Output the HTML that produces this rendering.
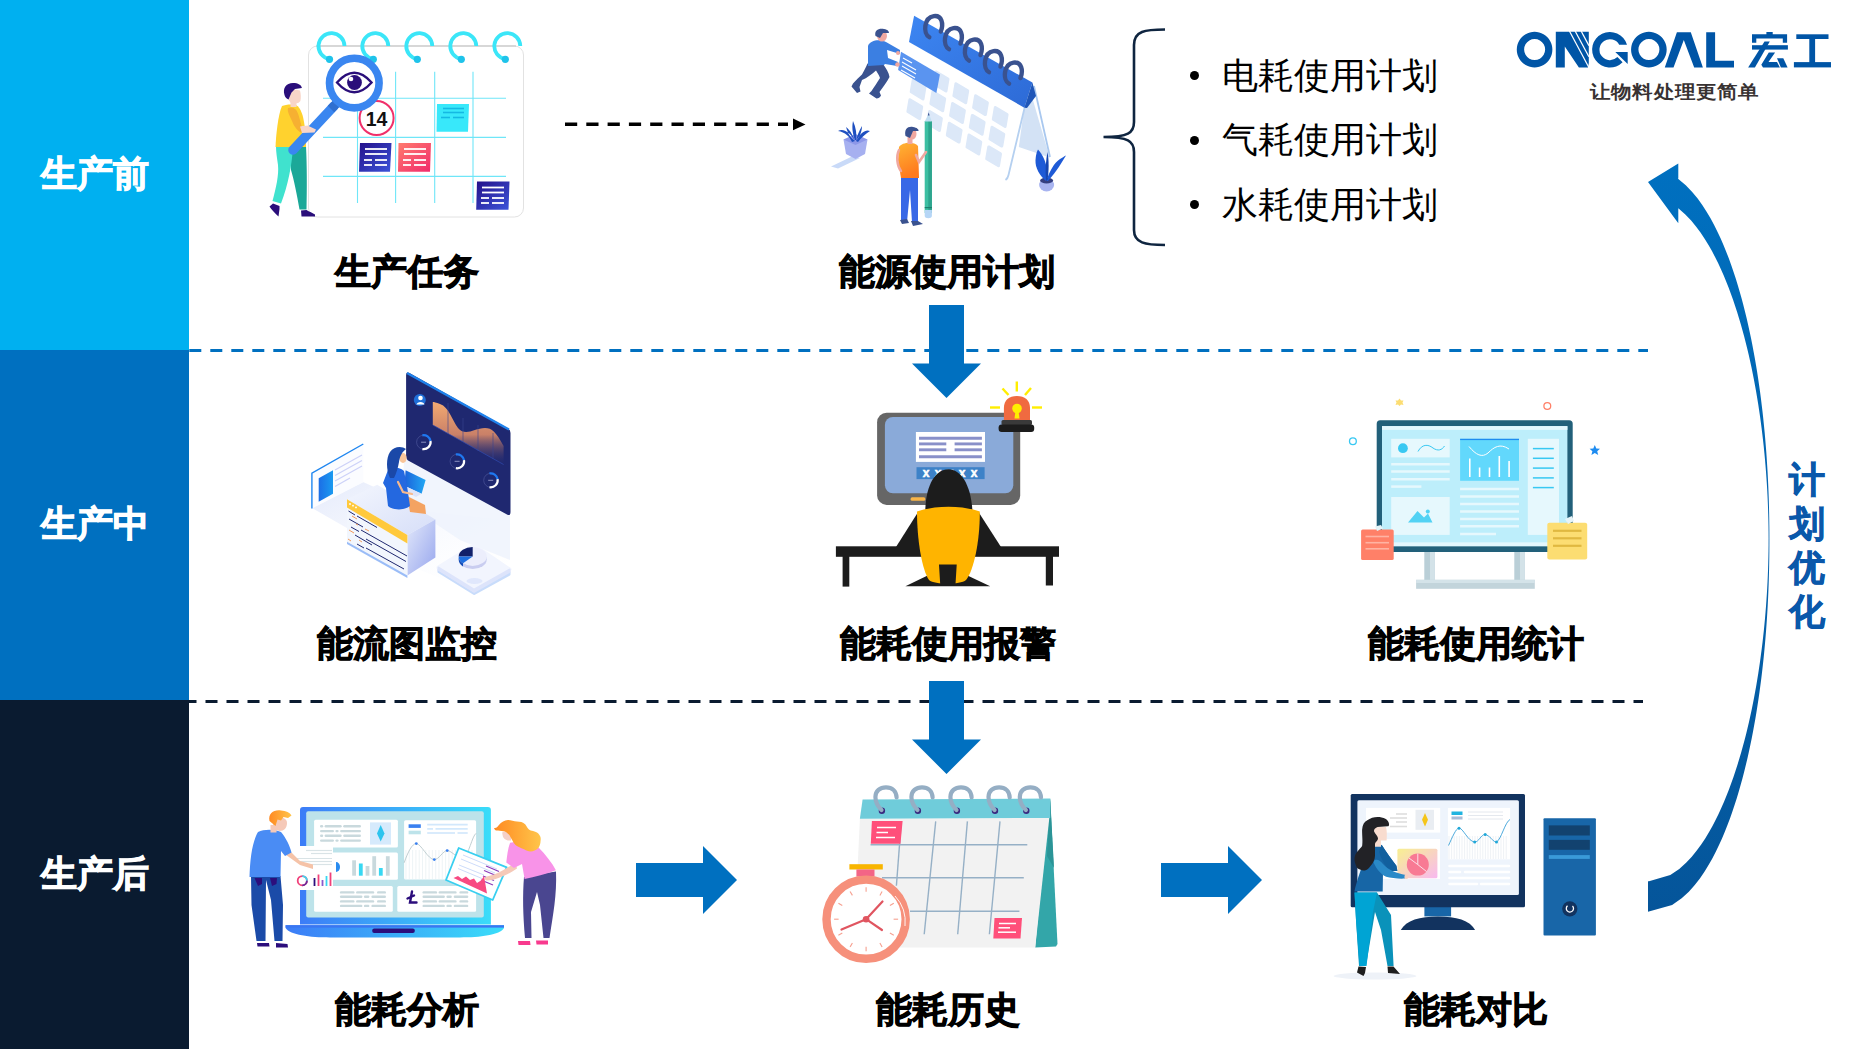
<!DOCTYPE html>
<html><head><meta charset="utf-8">
<style>
html,body{margin:0;padding:0;background:#fff;}
body{width:1869px;height:1050px;position:relative;overflow:hidden;font-family:"Liberation Sans",sans-serif;}
.band{position:absolute;left:0;width:189px;}
.bl{position:absolute;left:0;width:189px;color:#fff;font-weight:bold;font-size:36px;text-align:center;line-height:40px;-webkit-text-stroke:1px #fff;}
.lab{position:absolute;font-weight:bold;font-size:36px;color:#000;text-align:center;line-height:40px;white-space:nowrap;-webkit-text-stroke:1px #000;}
.bul{position:absolute;left:1222px;font-size:36px;color:#000;line-height:40px;white-space:nowrap;}
.dot{position:absolute;left:1190px;width:9px;height:9px;border-radius:50%;background:#000;}
svg{position:absolute;left:0;top:0;}
</style></head><body>
<div class="band" style="top:0;height:350px;background:#00B0F0"></div>
<div class="band" style="top:350px;height:350px;background:#0070C0"></div>
<div class="band" style="top:700px;height:349px;background:#0A1B30"></div>
<div class="bl" style="top:154px">生产前</div>
<div class="bl" style="top:504px">生产中</div>
<div class="bl" style="top:854px">生产后</div>

<svg width="1869" height="1050" viewBox="0 0 1869 1050">
  <defs>
    <linearGradient id="cg" x1="0" y1="0" x2="0" y2="1">
      <stop offset="0" stop-color="#0070C0"/>
      <stop offset="1" stop-color="#05559A"/>
    </linearGradient>
  </defs>
  <!-- dashed lines -->
  <line x1="189.3" y1="350.5" x2="1648" y2="350.5" stroke="#0070C0" stroke-width="3" stroke-dasharray="12 9"/>
  <line x1="184.5" y1="701.5" x2="1643" y2="701.5" stroke="#0A1B30" stroke-width="3" stroke-dasharray="12 9"/>
  <!-- top dashed arrow -->
  <line x1="565" y1="124.2" x2="788" y2="124.2" stroke="#000" stroke-width="3.5" stroke-dasharray="12.2 9.1"/>
  <polygon points="793,118.6 805.5,124.4 793,130.3" fill="#000"/>
  <!-- block arrows -->
  <polygon points="929,305 964,305 964,363.5 981,363.5 946.5,398 912,363.5 929,363.5" fill="#0070C0"/>
  <polygon points="929,681 964,681 964,739.5 981,739.5 946.5,774 912,739.5 929,739.5" fill="#0070C0"/>
  <polygon points="636,863 703,863 703,846 737,880 703,914 703,897 636,897" fill="#0070C0"/>
  <polygon points="1161,863 1228,863 1228,846 1262,880 1228,914 1228,897 1161,897" fill="#0070C0"/>
  <!-- curved arrow -->
  <path d="M1648,911.7 L1672.12,905.04 L1681.67,898.37 L1688.84,891.71 L1694.77,885.04 L1699.90,878.38 L1704.45,871.71 L1708.56,865.05 L1712.32,858.38 L1715.79,851.72 L1719.01,845.05 L1722.01,838.39 L1724.83,831.73 L1727.48,825.06 L1729.97,818.40 L1732.33,811.73 L1734.57,805.07 L1736.69,798.40 L1738.70,791.74 L1740.62,785.07 L1742.44,778.41 L1744.18,771.74 L1745.83,765.08 L1747.40,758.42 L1748.90,751.75 L1750.33,745.09 L1751.69,738.42 L1752.99,731.76 L1754.22,725.09 L1755.40,718.43 L1756.52,711.76 L1757.58,705.10 L1758.58,698.43 L1759.54,691.77 L1760.44,685.11 L1761.30,678.44 L1762.10,671.78 L1762.86,665.11 L1763.57,658.45 L1764.24,651.78 L1764.86,645.12 L1765.44,638.45 L1765.98,631.79 L1766.48,625.12 L1766.93,618.46 L1767.35,611.80 L1767.72,605.13 L1768.06,598.47 L1768.35,591.80 L1768.61,585.14 L1768.83,578.47 L1769.02,571.81 L1769.16,565.14 L1769.27,558.48 L1769.35,551.81 L1769.39,545.15 L1769.40,538.49 L1769.38,531.82 L1769.32,525.16 L1769.23,518.49 L1769.10,511.83 L1768.94,505.16 L1768.74,498.50 L1768.50,491.83 L1768.22,485.17 L1767.91,478.50 L1767.56,471.84 L1767.16,465.18 L1766.73,458.51 L1766.26,451.85 L1765.74,445.18 L1765.19,438.52 L1764.59,431.85 L1763.94,425.19 L1763.26,418.52 L1762.52,411.86 L1761.74,405.19 L1760.92,398.53 L1760.04,391.87 L1759.11,385.20 L1758.13,378.54 L1757.10,371.87 L1756.02,365.21 L1754.87,358.54 L1753.67,351.88 L1752.41,345.21 L1751.08,338.55 L1749.69,331.88 L1748.23,325.22 L1746.70,318.56 L1745.09,311.89 L1743.40,305.23 L1741.62,298.56 L1739.76,291.90 L1737.80,285.23 L1735.74,278.57 L1733.57,271.90 L1731.28,265.24 L1728.86,258.57 L1726.29,251.91 L1723.57,245.25 L1720.67,238.58 L1717.57,231.92 L1714.25,225.25 L1710.65,218.59 L1706.74,211.92 L1702.44,205.26 L1697.65,198.59 L1692.19,191.93 L1685.77,185.26 L1677.75,178.60 L1678.3,178.6 L1678.3,163.6 L1648,182.1 L1678.3,223.3 L1678.3,208.3 L1678.32,208.30 L1685.33,214.42 L1691.14,220.53 L1696.18,226.65 L1700.68,232.77 L1704.76,238.89 L1708.50,245.00 L1711.96,251.12 L1715.18,257.24 L1718.20,263.36 L1721.05,269.47 L1723.73,275.59 L1726.26,281.71 L1728.67,287.82 L1730.96,293.94 L1733.13,300.06 L1735.20,306.18 L1737.18,312.29 L1739.07,318.41 L1740.87,324.53 L1742.60,330.65 L1744.24,336.76 L1745.82,342.88 L1747.32,349.00 L1748.76,355.11 L1750.14,361.23 L1751.46,367.35 L1752.71,373.47 L1753.91,379.58 L1755.06,385.70 L1756.15,391.82 L1757.19,397.94 L1758.18,404.05 L1759.11,410.17 L1760.00,416.29 L1760.85,422.40 L1761.64,428.52 L1762.39,434.64 L1763.10,440.76 L1763.76,446.87 L1764.38,452.99 L1764.95,459.11 L1765.48,465.23 L1765.97,471.34 L1766.42,477.46 L1766.83,483.58 L1767.19,489.69 L1767.51,495.81 L1767.79,501.93 L1768.03,508.05 L1768.23,514.16 L1768.39,520.28 L1768.50,526.40 L1768.57,532.52 L1768.60,538.63 L1768.58,544.75 L1768.51,550.87 L1768.40,556.98 L1768.25,563.10 L1768.06,569.22 L1767.82,575.34 L1767.55,581.45 L1767.23,587.57 L1766.87,593.69 L1766.47,599.81 L1766.03,605.92 L1765.54,612.04 L1765.02,618.16 L1764.45,624.27 L1763.84,630.39 L1763.18,636.51 L1762.48,642.63 L1761.74,648.74 L1760.94,654.86 L1760.11,660.98 L1759.22,667.10 L1758.29,673.21 L1757.31,679.33 L1756.28,685.45 L1755.19,691.56 L1754.05,697.68 L1752.86,703.80 L1751.61,709.92 L1750.30,716.03 L1748.93,722.15 L1747.50,728.27 L1746.00,734.39 L1744.44,740.50 L1742.80,746.62 L1741.08,752.74 L1739.29,758.85 L1737.41,764.97 L1735.45,771.09 L1733.39,777.21 L1731.22,783.32 L1728.95,789.44 L1726.56,795.56 L1724.04,801.68 L1721.38,807.79 L1718.55,813.91 L1715.56,820.03 L1712.36,826.14 L1708.93,832.26 L1705.22,838.38 L1701.19,844.50 L1696.75,850.61 L1691.78,856.73 L1686.08,862.85 L1679.25,868.97 L1670.30,875.08 L1649.00,881.20 L1648,881.2 Z" fill="url(#cg)"/>
  <!-- brace -->
  <path d="M1165,29.5 C1145,29.5 1134,31 1134,45 L1134,122 C1134,133 1128,137 1103.5,137 C1128,137 1134,141 1134,152 L1134,230 C1134,243 1145,245 1165,245" fill="none" stroke="#0F2540" stroke-width="2.6"/>
</svg>


<!-- ILL1 生产任务 -->
<svg width="1869" height="1050" viewBox="0 0 1869 1050">
  <defs>
    <linearGradient id="n_ind" x1="0" y1="0" x2="1" y2="1"><stop offset="0" stop-color="#23108A"/><stop offset="1" stop-color="#3D55DA"/></linearGradient>
    <linearGradient id="n_pink" x1="0" y1="0" x2="1" y2="1"><stop offset="0" stop-color="#FF7B6E"/><stop offset="1" stop-color="#F12A6C"/></linearGradient>
  </defs>
  <rect x="308.5" y="46" width="215" height="171" rx="9" fill="#fff" stroke="#E2E2E2" stroke-width="1"/><line x1="316" y1="46" x2="516" y2="46" stroke="#BDBDBD" stroke-width="1.2"/>
  <g stroke="#6FE6F8" stroke-width="1.1" fill="none">
    <line x1="323" y1="98.3" x2="506" y2="98.3"/><line x1="323" y1="137.4" x2="506" y2="137.4"/><line x1="323" y1="176.4" x2="506" y2="176.4"/>
    <line x1="357.5" y1="71.7" x2="357.5" y2="203"/><line x1="395.6" y1="71.7" x2="395.6" y2="203"/><line x1="434.7" y1="71.7" x2="434.7" y2="203"/><line x1="473" y1="71.7" x2="473" y2="203"/>
  </g>
  <g fill="none" stroke="#3BE6F8" stroke-width="3.8">
    <path d="M329.5,59 A13,13 0 1 1 344.5,46"/>
    <path d="M373.3,59 A13,13 0 1 1 388.3,46"/>
    <path d="M417.3,59 A13,13 0 1 1 432.3,46"/>
    <path d="M461.3,59 A13,13 0 1 1 476.3,46"/>
    <path d="M505.3,59 A13,13 0 1 1 520.3,46"/>
  </g>
  <g fill="#1FC3EA">
    <circle cx="329.5" cy="59.3" r="3.6"/><circle cx="373.3" cy="59.3" r="3.6"/><circle cx="417.3" cy="59.3" r="3.6"/><circle cx="461.3" cy="59.3" r="3.6"/><circle cx="505.3" cy="59.3" r="3.6"/>
  </g>
  <!-- notes -->
  <polygon points="437,104 469,104 468,131.7 436.5,131.7" fill="#38E8FA"/>
  <g stroke="#14B9E3" stroke-width="1.6"><line x1="443" y1="108.5" x2="464" y2="108.5"/><line x1="443" y1="112.5" x2="464" y2="112.5"/><line x1="441" y1="117.5" x2="450" y2="117.5"/><line x1="453" y1="117.5" x2="464" y2="117.5"/></g>
  <polygon points="360,143 391.5,143 390,171.7 359,171.7" fill="url(#n_ind)"/>
  <polygon points="398.5,143 431,143 430,171.7 398,171.7" fill="url(#n_pink)"/>
  <polygon points="477,181.6 509.5,181.6 508.5,209.8 476.2,209.8" fill="url(#n_ind)"/>
  <g stroke="#fff" stroke-width="1.8">
    <line x1="365" y1="149" x2="387" y2="149"/><line x1="365" y1="154" x2="387" y2="154"/><line x1="364" y1="160" x2="372" y2="160"/><line x1="375" y1="160" x2="387" y2="160"/><line x1="364" y1="165" x2="372" y2="165"/><line x1="375" y1="165" x2="387" y2="165"/>
    <line x1="404" y1="149" x2="426" y2="149"/><line x1="404" y1="154" x2="426" y2="154"/><line x1="403" y1="160" x2="411" y2="160"/><line x1="414" y1="160" x2="426" y2="160"/><line x1="403" y1="165" x2="411" y2="165"/><line x1="414" y1="165" x2="426" y2="165"/>
    <line x1="482" y1="187.5" x2="504" y2="187.5"/><line x1="482" y1="192.5" x2="504" y2="192.5"/><line x1="481" y1="198" x2="489" y2="198"/><line x1="492" y1="198" x2="504" y2="198"/><line x1="481" y1="203" x2="489" y2="203"/><line x1="492" y1="203" x2="504" y2="203"/>
  </g>
  <!-- 14 circle -->
  <circle cx="376.6" cy="118" r="17" fill="#fff" stroke="#F0306A" stroke-width="2"/>
  <text x="376.6" y="125.5" font-family="Liberation Sans" font-weight="bold" font-size="19.5" text-anchor="middle" fill="#111">14</text>
  <!-- person -->
  <path d="M289,148 L306,146.5 C307,165 307,190 306.5,209.5 L299.5,209.5 C297,195 294,180 291,170 Z" fill="#1BA898"/>
  <path d="M276,146.5 L293,146.5 C292,165 288,185 281,203.5 L272.5,201 C276,188 279,175 278,165 C277,158 276,152 276,146.5 Z" fill="#40E2CE"/>
  <path d="M269.5,206.5 L273,203.5 L279.5,206 L279.5,209 L278.5,216.5 C275,213 271,209.5 269.5,206.5 Z" fill="#2A0E7A"/>
  <path d="M301,210.5 L306.5,210 C309,211.5 313,213 315,214.5 L315,216.5 L301.5,216.5 Z" fill="#2A0E7A"/>
  <path d="M282,106 C285,104.5 292,104 296,105 C301,108 303,115 304.5,125 C305.5,133 306,140 306,147 L275.5,147 C276,135 278,115 282,106 Z" fill="#FFD22E"/>
  <path d="M288,108 C293,106 297,109 298.5,115 C300,120 301,124 302,127.5 L308,126.5 L309,131 L300.5,132.5 C296,129 294,126 292,121 C290,116 287,112 288,108 Z" fill="#F6B032"/>
  <path d="M301.5,126 L308,125.8 L315.5,129 L314.5,131.8 L303,132.3 Z" fill="#F8D5C8"/>
  <rect x="290.5" y="99" width="6" height="8" fill="#F8D5C8"/>
  <path d="M287,92 C288,89 295,89 300,90.5 C301,94 301,98 300.4,101 C299,103.5 295,104 291,103 C288,100 286.5,96 287,92 Z" fill="#F8D5C8"/>
  <path d="M284.5,95 C282.5,88 286,83 293,83 C298,83 301.5,85 301.9,88 L295,89 L291.5,92.5 L288.5,99.5 C286.5,98.5 285,97 284.5,95 Z" fill="#2A0E7A"/>
  <!-- magnifier -->
  <line x1="334" y1="106" x2="293" y2="150" stroke="#3A86F0" stroke-width="9.5" stroke-linecap="round"/>
  <line x1="338" y1="102" x2="331" y2="109" stroke="#2F6FD0" stroke-width="9"/>
  <circle cx="354.3" cy="83.1" r="24.8" fill="#fff" stroke="#3A86F0" stroke-width="7.6"/>
  <path d="M337,82.5 Q354.3,63 371.6,82.5 Q354.3,102 337,82.5 Z" fill="#fff" stroke="#2A0E7A" stroke-width="2.3"/>
  <circle cx="354.5" cy="82.5" r="7.4" fill="#2A0E7A"/>
  <circle cx="351" cy="79" r="2.3" fill="#fff"/>
  <path d="M300,126.5 L308,125.8 L316,129.5 L314.5,132.5 L302,133 Z" fill="#F8D5C8"/>
</svg>

<!-- ILL2 能源使用计划 -->
<svg width="1869" height="1050" viewBox="0 0 1869 1050">
  <defs>
    <linearGradient id="hdr2" x1="0" y1="0" x2="1" y2="1"><stop offset="0" stop-color="#3D86F2"/><stop offset="1" stop-color="#2D6AD6"/></linearGradient>
    <linearGradient id="stand2" x1="0" y1="0" x2="0" y2="1"><stop offset="0" stop-color="#CFDFF4"/><stop offset="0.6" stop-color="#E2ECF8"/><stop offset="1" stop-color="#FFFFFF"/></linearGradient>
    <linearGradient id="shirt2" x1="0" y1="0" x2="0.3" y2="1"><stop offset="0" stop-color="#FFB534"/><stop offset="1" stop-color="#FF7A1E"/></linearGradient>
  </defs>
  <!-- stand -->
  <polygon points="1030,90 1049.7,157.5 1018.8,147 1024.5,106" fill="#D3E2F5"/>
  <path d="M1025.5,104 L1008.5,175 C1008,177.5 1007,179 1005.5,180" fill="none" stroke="#B5D0F0" stroke-width="1.8"/>
  <line x1="1034" y1="86" x2="1050" y2="157" stroke="#A9C8EF" stroke-width="1.8"/>
  <g fill="#DCE8F8" stroke="#DCE8F8" stroke-width="3" stroke-linejoin="round"><polygon points="936.2,72.0 948.0,79.1 946.0,91.0 934.2,83.9"/><polygon points="955.9,83.8 967.7,90.9 965.7,102.8 953.9,95.7"/><polygon points="975.6,95.7 987.4,102.7 985.4,114.6 973.6,107.5"/><polygon points="995.3,107.5 1007.1,114.5 1005.1,126.4 993.3,119.3"/><polygon points="913.2,80.0 925.0,87.0 923.0,98.9 911.2,91.8"/><polygon points="932.9,91.8 944.7,98.8 942.7,110.7 930.9,103.6"/><polygon points="952.6,103.5 964.4,110.6 962.4,122.5 950.6,115.4"/><polygon points="972.3,115.4 984.1,122.4 982.1,134.2 970.3,127.2"/><polygon points="992.0,127.2 1003.8,134.2 1001.8,146.1 990.0,139.0"/><polygon points="909.9,99.7 921.7,106.7 919.7,118.6 907.9,111.5"/><polygon points="929.6,111.5 941.4,118.5 939.4,130.4 927.6,123.3"/><polygon points="949.3,123.2 961.1,130.3 959.1,142.1 947.3,135.1"/><polygon points="969.0,135.1 980.8,142.1 978.8,153.9 967.0,146.9"/><polygon points="988.7,146.9 1000.5,153.9 998.5,165.8 986.7,158.7"/></g>
  <!-- header -->
  <polygon points="914.1,15.7 1032.4,82.6 1024.4,107.7 909,42" fill="url(#hdr2)"/>
  <polygon points="1032.4,82.6 1036,96 1027,108 1024.4,107.7" fill="#1F56B8"/>
  <g fill="none" stroke="#3A528F" stroke-width="4.4" stroke-linecap="round" transform="translate(0.8,1.6)">
    <path d="M928.5,35.5 C922,32 923,16 933,14.5 C941,13.5 943,22 940,30"/>
    <path d="M948.2,47.5 C941.7,44 942.7,28 952.7,26.5 C960.7,25.5 962.7,34 959.7,42"/>
    <path d="M968.2,59 C961.7,55.5 962.7,39.5 972.7,38 C980.7,37 982.7,45.5 979.7,53.5"/>
    <path d="M988.2,70.5 C981.7,67 982.7,51 992.7,49.5 C1000.7,48.5 1002.7,57 999.7,65"/>
    <path d="M1008.2,82 C1001.7,78.5 1002.7,62.5 1012.7,61 C1020.7,60 1022.7,68.5 1019.7,76.5"/>
  </g>
  <!-- note held -->
  <polygon points="901,51.7 939.9,74.6 936.4,92.9 898.1,70" fill="#5A94F0"/>
  <g stroke="#fff" stroke-width="1.1"><line x1="903" y1="58" x2="912" y2="63"/><line x1="902" y1="62" x2="916" y2="70"/><line x1="902" y1="66" x2="916" y2="74"/><line x1="901" y1="70" x2="915" y2="78"/></g>
  <!-- man 1 -->
  <path d="M867.5,63.5 L883,64 C886,68 889,73 889.5,77 C887,82 883,87 879.5,92 L881,95.5 C880,97.5 878.5,98.5 876.5,98.5 L869,93.5 L871.5,91 C874,87 877,83 880,78 C879,75 877,72 876,70.5 C872,74 867,78 862,80 L859.5,87 L860.5,91.5 L857,93 L851.5,86.5 L853,83.5 C856,80 859,77 862,74.5 C864,71 866,67 867.5,63.5 Z" fill="#3A528F"/>
  <path d="M868,46 C870,40 880,39 886,42 L900,50 L900,54 L887,50 L888,58 L898,62 L897,66 L885,64 L884,65 L868,66 Z" fill="#3B7FE2"/>
  <circle cx="898" cy="53" r="2" fill="#F0A8A0"/><circle cx="897.5" cy="64.5" r="2.3" fill="#F0A8A0"/>
  <ellipse cx="882" cy="36" rx="5" ry="5.5" fill="#F0A8A0"/>
  <path d="M875.5,36 C874,30 879,28 884,29 C888,29.5 889,31.5 889,33 L883,33 L880,38 Z" fill="#3A528F"/>
  <!-- man 2 with pencil -->
  <rect x="924.7" y="121" width="7.2" height="92" fill="#3DBFA2"/>
  <rect x="928.3" y="121" width="3.6" height="92" fill="#2EA58E"/>
  <polygon points="924.7,121.5 931.9,121.5 928.8,113.5" fill="#C2DEF2"/><polygon points="927.8,115.5 929.6,115.5 928.7,112.3" fill="#3A528F"/>
  <rect x="924.7" y="207" width="7.2" height="1.2" fill="#1E7F6E"/>
  <path d="M924.7,210 L931.9,210 L931.9,216 C931.9,219 924.7,219 924.7,216 Z" fill="#B6D6F6"/>
  <path d="M901,176 L918,176 L918,222 L912,222 L910,190 L907,222 L901,221 Z" fill="#3868E6"/>
  <path d="M900,220 L907,219 L909,223 L902,224 Z" fill="#3A528F"/>
  <path d="M911,221 L918,221 L923,224 L913,226 Z" fill="#3A528F"/>
  <path d="M899,147 C902,142 914,141 918,146 L919,178 L901,178 L898,160 Z" fill="url(#shirt2)"/>
  <path d="M899,150 C896,156 897,166 901,171" fill="none" stroke="#F0A8A0" stroke-width="2.5" stroke-linecap="round"/>
  <path d="M916,155 L919,162 L926,152" fill="none" stroke="#F0A8A0" stroke-width="2.6" stroke-linecap="round"/>
  <rect x="907.5" y="137" width="5" height="7" fill="#F0A8A0"/>
  <ellipse cx="912" cy="134" rx="4.5" ry="5.5" fill="#F0A8A0"/>
  <path d="M905.5,136 C904,129 908,126 913,127 C917,127.5 919,129.5 918.5,131 L913,131 L910,138 Z" fill="#3A528F"/>
  <!-- plant left -->
  <polygon points="831,166.5 853,156 860,158 838,168.5" fill="#C9DAF8"/>
  <polygon points="843.5,139.5 867.5,139.5 865,154 855.5,159 846,154" fill="#A6B0F0"/>
  <polygon points="843.5,139.5 855.5,134 867.5,139.5 855.5,145" fill="#8C97E8"/>
  <path d="M855,140 C852,132 852,126 853,121 C856,128 857,134 856,140 Z M855,141 C850,132 843,128 838,131 C845,132 850,137 852,142 Z M856,141 C861,132 866,129 870,131 C865,134 861,138 858,142 Z M855,141 C849,137 847,130 846,127 C851,131 853,136 855,141 Z M856,141 C861,136 862,129 862,126 C859,131 857,136 856,141 Z" fill="#1E4FC0"/>
  <!-- plant right -->
  <ellipse cx="1046.6" cy="185" rx="7.5" ry="6.5" fill="#A8B4F0"/>
  <ellipse cx="1046.6" cy="180.5" rx="6.5" ry="3" fill="#343F80"/>
  <path d="M1046,181 C1040,176 1035,168 1035.5,160 C1036,154 1037,151 1038,149.5 C1042,154 1046,161 1047,170 Z" fill="#1E5AD6"/>
  <path d="M1046.5,181 C1049,172 1054,163 1060,159 C1062.5,157.5 1064.5,156 1066,155.5 C1062,162 1057,171 1048,181 Z" fill="#1E5AD6"/>
  <path d="M1046,180 C1045,170 1046,160 1047.5,152 C1049,160 1049,171 1047.5,180 Z" fill="#1646B0"/>
</svg>

<!-- ILL3 能流图监控 -->
<svg width="1869" height="1050" viewBox="0 0 1869 1050">
  <defs>
    <linearGradient id="floor3" x1="0" y1="0" x2="1" y2="1"><stop offset="0" stop-color="#E4EAFB"/><stop offset="1" stop-color="#FFFFFF" stop-opacity="0"/></linearGradient>
    <linearGradient id="rface3" x1="0" y1="0" x2="1" y2="1"><stop offset="0" stop-color="#E2E8FA"/><stop offset="1" stop-color="#97A6EE"/></linearGradient>
    <linearGradient id="tface3" x1="0" y1="0" x2="1" y2="1"><stop offset="0" stop-color="#F3F6FE"/><stop offset="1" stop-color="#D6DEF8"/></linearGradient>
    <linearGradient id="area3" x1="0" y1="0" x2="0" y2="1"><stop offset="0" stop-color="#F8AE72"/><stop offset="0.55" stop-color="#C98068"/><stop offset="1" stop-color="#1F2870" stop-opacity="0.1"/></linearGradient>
    <linearGradient id="lap3" x1="0" y1="0" x2="1" y2="0"><stop offset="0" stop-color="#1C62DA"/><stop offset="1" stop-color="#22A8F4"/></linearGradient>
    <linearGradient id="blue3" x1="0" y1="0" x2="1" y2="0"><stop offset="0" stop-color="#1C6EE6"/><stop offset="1" stop-color="#1A9AF0"/></linearGradient>
  </defs>
  <!-- floor shadows -->
  <polygon points="312,508 363,482 430,512 510,520 510,560 470,590 420,570" fill="url(#floor3)"/>
  <polygon points="405,455 510,515 510,560 460,540 400,500" fill="#EEF2FD" opacity="0.8"/>
  <!-- left panel -->
  <polygon points="311.9,473.1 363.3,444 363.3,482.3 311.9,508.6" fill="#FBFCFF"/>
  <polyline points="311.9,508.6 311.9,473.1 363.3,444" fill="none" stroke="#1E86F0" stroke-width="1.4"/>
  <polygon points="318.7,478.3 333,470.3 333,493.7 318.7,501.7" fill="url(#blue3)"/>
  <g stroke="#CDD2F8" stroke-width="1.3"><line x1="335" y1="470" x2="362" y2="455"/><line x1="335" y1="475.5" x2="362" y2="460.5"/><line x1="335" y1="481" x2="362" y2="466"/><line x1="335" y1="486.5" x2="350" y2="478"/></g>
  <!-- big panel -->
  <path d="M406.1,375 Q406.1,371.5 409.5,373 L508,428.6 Q510.5,430 510.5,433 L510.5,512 Q510.5,516.5 507,514.5 L409,461 Q406.1,459.5 406.1,456 Z" fill="#1F2870"/>
  <path d="M407,373 L509,429.5" stroke="#1F82EC" stroke-width="2.2" fill="none"/>
  <path d="M432.8,398.5 L432.8,425 L503.6,464.5 L503.6,446 C496,432 492,428 485,428 C474,428 466,437 458,428 C452,420 449,407 440,404 C436,402.5 434,402 432.8,402 Z" fill="url(#area3)"/>
  <g stroke="#3A4590" stroke-width="0.6"><line x1="448" y1="403" x2="448" y2="434"/><line x1="463" y1="418" x2="463" y2="442"/><line x1="478" y1="425" x2="478" y2="451"/><line x1="493" y1="433" x2="493" y2="459"/></g>
  <line x1="432.8" y1="425" x2="503.6" y2="464.5" stroke="#2F4AB0" stroke-width="0.7"/>
  <circle cx="419.8" cy="400" r="6" fill="#1F6FD8"/>
  <circle cx="420.5" cy="398" r="2.3" fill="#fff"/><path d="M416.5,404.5 C417,401 424,401 424.5,404.5 Z" fill="#fff"/>
  <circle cx="423.6" cy="442.2" r="7" fill="none" stroke="#4A5398" stroke-width="0.7"/><path d="M422.38,435.31 A7.0,7.0 0 0 1 430.49,440.98" fill="none" stroke="#1F78F0" stroke-width="2.2"/><path d="M430.49,440.98 A7.0,7.0 0 0 1 422.38,449.09" fill="none" stroke="#FFFFFF" stroke-width="2.2"/><rect x="421.1" y="441.7" width="5" height="1" fill="#8A90C0"/><circle cx="457.1" cy="461.3" r="7" fill="none" stroke="#4A5398" stroke-width="0.7"/><path d="M455.88,454.41 A7.0,7.0 0 0 1 463.99,460.08" fill="none" stroke="#1F78F0" stroke-width="2.2"/><path d="M463.99,460.08 A7.0,7.0 0 0 1 455.88,468.19" fill="none" stroke="#FFFFFF" stroke-width="2.2"/><rect x="454.6" y="460.8" width="5" height="1" fill="#8A90C0"/><circle cx="490.7" cy="480.3" r="7" fill="none" stroke="#4A5398" stroke-width="0.7"/><path d="M489.48,473.41 A7.0,7.0 0 0 1 497.59,479.08" fill="none" stroke="#1F78F0" stroke-width="2.2"/><path d="M497.59,479.08 A7.0,7.0 0 0 1 489.48,487.19" fill="none" stroke="#FFFFFF" stroke-width="2.2"/><rect x="488.2" y="479.8" width="5" height="1" fill="#8A90C0"/>
  <!-- desk -->
  <polygon points="347,499.3 377.2,484.7 435.4,519.4 407.4,535.1" fill="url(#tface3)"/>
  <polygon points="407.4,535.1 435.4,519.4 435.4,557.5 407.4,575.4" fill="url(#rface3)"/>
  <polygon points="347,499.3 407.4,535.1 407.4,575.4 347,541.8" fill="#F2F6FD"/>
  <polygon points="347,541.8 407.4,575.4 407.4,578 347,544" fill="#6FA0F4" opacity="0.7"/>
  <polygon points="347,499.3 407.4,535.1 407.4,543.5 347,507.5" fill="#FFC93C"/>
  <g fill="#fff"><circle cx="350" cy="504" r="0.9"/><circle cx="353" cy="505.7" r="0.9"/><circle cx="356" cy="507.4" r="0.9"/></g>
  <g stroke="#1F2870" stroke-width="1"><line x1="348.5" y1="511" x2="355" y2="515"/><line x1="357" y1="516" x2="377" y2="527.5"/><line x1="349" y1="519" x2="363" y2="527"/><line x1="351" y1="527" x2="359" y2="531.5"/><line x1="361" y1="530" x2="407" y2="556"/><line x1="355" y1="535" x2="372" y2="545"/><line x1="366" y1="539" x2="406" y2="561.5"/><line x1="357" y1="544" x2="364" y2="548"/><line x1="366" y1="548" x2="404" y2="569"/></g>
  <g stroke="#F39A5A" stroke-width="1"><line x1="352" y1="516" x2="357" y2="519"/><line x1="356" y1="524" x2="358" y2="525"/><line x1="365" y1="529" x2="369" y2="531"/><line x1="349" y1="530" x2="354" y2="533"/><line x1="348" y1="539" x2="351" y2="541"/><line x1="359" y1="540" x2="362" y2="542"/></g>
  <!-- woman -->
  <path d="M407,496 L425,505 L426,514 L410,512 Z" fill="#F4A362"/>
  <polygon points="405.6,470.3 425.6,480 421.6,493.7 404.4,485.7" fill="url(#lap3)"/>
  <polygon points="404.4,485.7 421.6,493.7 416,497 400,489" fill="#DDE4FA"/>
  <path d="M388,470 C392,466 400,467 404,471 L407,486 L410,506 C404,511 392,510 388,506 L386,488 L383,483 Z" fill="#2468E0"/>
  <path d="M398,482 L403,492 L412,494" fill="none" stroke="#F6B98E" stroke-width="2.2" stroke-linecap="round"/>
  <ellipse cx="403" cy="458" rx="3.6" ry="5" fill="#F8C59A"/>
  <path d="M390,478 C386,470 386,458 390,452 C394,446 402,446 406,449 C402,452 400,456 399,462 C398,468 396,474 394,478 Z" fill="#1A48A8"/>
  <!-- pie platform -->
  <polygon points="438.5,569.5 474,591.5 509.5,572 509.5,574.5 474,594 438.5,572" fill="#6FA2F6" opacity="0.55" stroke="#9CC0F8" stroke-width="2" stroke-linejoin="round"/>
  <polygon points="438.5,567.5 474,545.5 509.5,569.5 474,589.5" fill="#F2F5FE" stroke="#F2F5FE" stroke-width="4" stroke-linejoin="round"/>
  <polygon points="438.5,567.5 474,589.5 509.5,569.5 509.5,572 474,592 438.5,570" fill="#DDE4FB" stroke="#DDE4FB" stroke-width="2" stroke-linejoin="round"/>
  <ellipse cx="474.5" cy="581" rx="8" ry="3" fill="#C9D8FA" opacity="0.45"/>
  <ellipse cx="472.7" cy="559.5" rx="14" ry="9.5" fill="#C9CDF0"/>
  <ellipse cx="472.7" cy="556.4" rx="14" ry="9.5" fill="#ECEEFC"/>
  <path d="M472.7,556.4 L472.7,546.9 A14,9.5 0 0 0 458.7,556.4 Z" fill="#12206A"/>
  <path d="M472.7,556.4 L458.7,556.4 A14,9.5 0 0 0 463,563.3 Z" fill="#1F6FE0"/>
  <path d="M458.7,556.4 L458.7,559.5 A14,9.5 0 0 0 463,566.4 L463,563.3 A14,9.5 0 0 1 458.7,556.4 Z" fill="#164FB8"/>
</svg>

<!-- ILL4 能耗使用报警 -->
<svg width="1869" height="1050" viewBox="0 0 1869 1050">
  <rect x="877.1" y="412.7" width="143.1" height="92.2" rx="9.5" fill="#666666"/>
  <rect x="884.9" y="416.9" width="128.4" height="76.4" rx="8" fill="#8AAAD9"/>
  <rect x="910.6" y="497.3" width="14.7" height="3.4" rx="1.5" fill="#F9B548"/>
  <rect x="915.9" y="432" width="69.1" height="29.9" fill="#fff"/>
  <g stroke="#8990C9" stroke-width="2.9">
    <line x1="919" y1="438.3" x2="981.9" y2="438.3"/>
    <line x1="919" y1="443.9" x2="946.3" y2="443.9"/><line x1="954.6" y1="443.9" x2="981.9" y2="443.9"/>
    <line x1="919" y1="449.8" x2="946.3" y2="449.8"/><line x1="954.6" y1="449.8" x2="981.9" y2="449.8"/>
    <line x1="919" y1="456.7" x2="981.9" y2="456.7"/>
  </g>
  <rect x="916.5" y="467.2" width="68.1" height="11.9" fill="#3D82C8"/>
  <text x="922.8" y="477.2" font-family="Liberation Sans" font-weight="bold" font-size="12" fill="#fff" stroke="#fff" stroke-width="0.5" letter-spacing="5.3">xxxxx</text>
  <!-- chair base -->
  <polygon points="905.4,586.3 947.3,566 990.2,586.3" fill="#1C1C1C"/>
  <!-- desk -->
  <rect x="835.9" y="546.3" width="223.1" height="10.5" fill="#1C1C1C"/>
  <rect x="842.6" y="556" width="6.7" height="30.6" fill="#1C1C1C"/>
  <rect x="1045.8" y="556" width="7.2" height="29.5" fill="#1C1C1C"/>
  <!-- arms -->
  <polygon points="896,547 917.5,513 925,513 925,547" fill="#1C1C1C"/>
  <polygon points="1001,547 978.5,512 970,512 970,547" fill="#1C1C1C"/>
  <!-- head -->
  <path d="M925.3,510 C926,484 936,469.3 948.3,469.3 C960.6,469.3 970.6,484 972.4,510 Z" fill="#1C1C1C"/>
  <!-- body -->
  <path d="M917,511.5 C935,505 962,505 979.8,511.5 C980,540 974,570 966,580 C960,585 935,585 929,580 C922,570 917,540 917,511.5 Z" fill="#FFB400"/>
  <path d="M939,564.6 L956.7,564.6 L955.5,584.6 L940.2,584.6 Z" fill="#1C1C1C"/>
  <!-- alarm -->
  <g stroke="#FFEE00" stroke-width="2.4" stroke-linecap="butt">
    <line x1="1016.8" y1="381.5" x2="1016.8" y2="391.5"/>
    <line x1="1002.5" y1="388.5" x2="1008.5" y2="395"/>
    <line x1="1031" y1="388" x2="1025" y2="395"/>
    <line x1="990" y1="407.5" x2="1000" y2="407.5"/>
    <line x1="1032" y1="407.5" x2="1042" y2="407.5"/>
  </g>
  <path d="M1003.9,421 L1003.9,408 C1003.9,400 1009,396 1016.9,396 C1024.8,396 1030,400 1030,408 L1030,421 Z" fill="#F06A40"/>
  <circle cx="1017" cy="408.5" r="4.8" fill="#FFEE00"/>
  <polygon points="1015.5,411 1018.5,411 1019.5,418.5 1014.5,418.5" fill="#FFEE00"/>
  <rect x="1001.5" y="420" width="30.5" height="5" rx="1.5" fill="#3A3A3A"/>
  <rect x="998.6" y="424.5" width="35.6" height="7.5" rx="3" fill="#1C1C1C"/>
</svg>

<!-- ILL5 能耗使用统计 -->
<svg width="1869" height="1050" viewBox="0 0 1869 1050">
  <!-- stand -->
  <rect x="1424.3" y="552" width="10.4" height="28.5" fill="#BACFD7"/><rect x="1430" y="552" width="4.7" height="28.5" fill="#D3E2E8"/>
  <rect x="1514.3" y="552" width="10.4" height="28.5" fill="#BACFD7"/><rect x="1520" y="552" width="4.7" height="28.5" fill="#D3E2E8"/>
  <rect x="1416.1" y="579.8" width="118.7" height="9" fill="#C2D4DB"/><rect x="1416.1" y="579.8" width="118.7" height="3.2" fill="#D4E3E9"/>
  <!-- frame -->
  <rect x="1376.7" y="420.3" width="196" height="131.7" rx="3.5" fill="#22607A"/>
  <rect x="1382" y="426.1" width="185.4" height="120.1" fill="#BDEEFB"/>
  <rect x="1382" y="426.1" width="185.4" height="3.8" fill="#E3F7FD"/>
  <rect x="1382" y="542.3" width="185.4" height="3.9" fill="#E3F7FD"/>
  <!-- left column -->
  <rect x="1391.2" y="438.8" width="58.5" height="18.6" fill="#E6F8FD"/>
  <circle cx="1402.9" cy="448.2" r="4.9" fill="#38C8F2"/>
  <path d="M1418,451.5 C1422,444 1428,444 1433,448 C1438,451.5 1442,450 1444.5,446" fill="none" stroke="#38C8F2" stroke-width="1"/>
  <g stroke="#E6F8FD" stroke-width="2.5">
    <line x1="1391.2" y1="464.2" x2="1449.7" y2="464.2"/><line x1="1391.2" y1="471.6" x2="1449.7" y2="471.6"/><line x1="1391.2" y1="479.2" x2="1449.7" y2="479.2"/><line x1="1391.2" y1="486.6" x2="1421.4" y2="486.6"/>
    <line x1="1460.1" y1="489" x2="1519" y2="489"/><line x1="1460.1" y1="496.6" x2="1519" y2="496.6"/><line x1="1460.1" y1="504" x2="1519" y2="504"/><line x1="1460.1" y1="511.4" x2="1519" y2="511.4"/><line x1="1460.1" y1="518.9" x2="1519" y2="518.9"/><line x1="1460.1" y1="526.3" x2="1519" y2="526.3"/><line x1="1460.1" y1="533.9" x2="1496" y2="533.9"/>
  </g>
  <rect x="1391.2" y="497" width="58.5" height="37.9" fill="#E6F8FD"/>
  <polygon points="1408,522.5 1417.5,511 1424,517.5 1428,513.5 1432.5,522.5" fill="#52D2F4"/>
  <circle cx="1427.8" cy="511.5" r="2" fill="#52D2F4"/>
  <!-- middle chart -->
  <rect x="1460.1" y="438.8" width="58.9" height="42" fill="#62D8FC"/>
  <rect x="1460.1" y="438.8" width="58.9" height="1.3" fill="#1E8CF0"/>
  <path d="M1469,446.5 C1476,455 1482,458 1488,453 C1494,447 1500,443 1509,449" fill="none" stroke="#fff" stroke-width="1"/>
  <g stroke="#fff" stroke-width="1.6"><line x1="1469.8" y1="458.5" x2="1469.8" y2="477"/><line x1="1479.6" y1="467.5" x2="1479.6" y2="477"/><line x1="1489.5" y1="467.5" x2="1489.5" y2="477"/><line x1="1499.3" y1="456" x2="1499.3" y2="477"/><line x1="1509.1" y1="461" x2="1509.1" y2="477"/></g>
  <!-- right column -->
  <rect x="1527.8" y="438.8" width="31.2" height="96.1" fill="#E6F8FD"/>
  <g stroke="#38C8F2" stroke-width="1.5"><line x1="1532.9" y1="448.6" x2="1553.8" y2="448.6"/><line x1="1532.9" y1="458.3" x2="1553.8" y2="458.3"/><line x1="1532.9" y1="468.1" x2="1553.8" y2="468.1"/><line x1="1532.9" y1="477.9" x2="1553.8" y2="477.9"/><line x1="1532.9" y1="487.6" x2="1553.8" y2="487.6"/></g>
  <!-- notes -->
  <rect x="1361.1" y="529.6" width="32.6" height="30.3" rx="1.5" fill="#FF8068"/>
  <g stroke="#FFB3A3" stroke-width="1.6"><line x1="1365.5" y1="536.5" x2="1389" y2="536.5"/><line x1="1365.5" y1="542.7" x2="1389" y2="542.7"/><line x1="1365.5" y1="548.8" x2="1389" y2="548.8"/></g>
  <polygon points="1375,526.5 1381,525 1383,528.5 1377,531" fill="#E6F4F8"/>
  <rect x="1547.3" y="522.8" width="39.9" height="36.7" rx="2" fill="#FCDD72"/>
  <g stroke="#E0B840" stroke-width="2.2"><line x1="1553" y1="530.8" x2="1581.5" y2="530.8"/><line x1="1553" y1="538.3" x2="1581.5" y2="538.3"/><line x1="1553" y1="545.8" x2="1581.5" y2="545.8"/></g>
  <polygon points="1565,519 1572,516 1574,521 1568,524" fill="#E6F4F8"/>
  <!-- decorations -->
  <polygon points="1399.5,398.5 1401,400.5 1403.5,400.5 1402.5,402.5 1403.5,405 1401,404.5 1399.5,406 1398,404.5 1395.5,405 1396.5,402.5 1395.5,400.5 1398,400.5" fill="#FCDD72"/>
  <circle cx="1547.3" cy="406" r="3.4" fill="none" stroke="#FF8068" stroke-width="1.3"/>
  <circle cx="1352.9" cy="441.2" r="3.4" fill="none" stroke="#38C8F2" stroke-width="1.3"/>
  <polygon points="1594.8,445 1596.3,448.5 1600,448.8 1597.2,451.2 1598.2,455 1594.8,453 1591.4,455 1592.4,451.2 1589.6,448.8 1593.3,448.5" fill="#1E8CF0"/>
</svg>

<!-- ILL6 能耗分析 -->
<svg width="1869" height="1050" viewBox="0 0 1869 1050">
  <defs>
    <linearGradient id="lid6" x1="0" y1="0" x2="1" y2="0"><stop offset="0" stop-color="#3C7CF7"/><stop offset="1" stop-color="#3ADDF9"/></linearGradient>
    <linearGradient id="hair6" x1="0" y1="0" x2="1" y2="0"><stop offset="0" stop-color="#FF8A22"/><stop offset="1" stop-color="#FFC54A"/></linearGradient>
  </defs>
  <!-- laptop -->
  <path d="M300,924.5 L300,810 Q300,806.9 303,806.9 L487.9,806.9 Q490.9,806.9 490.9,810 L490.9,924.5 Z" fill="url(#lid6)"/>
  <rect x="306.2" y="811.2" width="177.6" height="106.3" rx="2" fill="#BDE3EA"/>
  <path d="M285.6,925.2 L504,925.2 L504,928 C500,935 480,937.4 460,937.4 L330,937.4 C310,937.4 290,935 285.6,928 Z" fill="url(#lid6)"/>
  <rect x="285.6" y="925.2" width="218.4" height="2.4" fill="#3A76F2"/>
  <rect x="372.2" y="928.6" width="42.6" height="4.3" rx="2" fill="#2C0E7C"/>
  <!-- cards -->
  <g fill="#fff">
    <rect x="314.1" y="819.8" width="83.8" height="27.6" rx="1.5"/>
    <rect x="314.1" y="852.6" width="83.8" height="27.2" rx="1.5"/>
    <rect x="404.1" y="820.2" width="72" height="59.3" rx="1.5"/>
    <rect x="314.1" y="886" width="78.7" height="25.7" rx="1.5"/>
    <rect x="397.3" y="886" width="78.8" height="25.7" rx="1.5"/>
  </g>
  <rect x="370" y="822.4" width="21" height="22.2" fill="#D6EAFC"/>
  <polygon points="380.7,825 384.5,833.5 380.7,841.5 377,833.5" fill="#2EC4EE"/>
  <g stroke="#C9D9DD" stroke-width="2.4" stroke-linecap="round"><line x1="321.2" y1="826.2" x2="322.0" y2="826.2"/><line x1="325.8" y1="826.2" x2="340.5" y2="826.2"/><line x1="344.4" y1="826.2" x2="359.8" y2="826.2"/><line x1="321.2" y1="831.1" x2="332.8" y2="831.1"/><line x1="336.6" y1="831.1" x2="337.4" y2="831.1"/><line x1="341.3" y1="831.1" x2="359.8" y2="831.1"/><line x1="321.2" y1="835.8" x2="322.0" y2="835.8"/><line x1="325.8" y1="835.8" x2="340.5" y2="835.8"/><line x1="344.4" y1="835.8" x2="359.8" y2="835.8"/><line x1="321.2" y1="840.6" x2="332.8" y2="840.6"/><line x1="336.6" y1="840.6" x2="337.4" y2="840.6"/><line x1="341.3" y1="840.6" x2="359.8" y2="840.6"/></g>
  <g fill="#C9D9DD"><rect x="352.2" y="860.3" width="3.8" height="15.4"/><rect x="365.6" y="866" width="3.8" height="9.7"/><rect x="372.3" y="856.2" width="3.8" height="19.5"/><rect x="385.9" y="856.2" width="3.8" height="19.5"/></g>
  <g fill="#38D8F2"><rect x="358.9" y="863.5" width="3.8" height="12.2"/><rect x="378.9" y="868" width="3.8" height="7.7"/></g>
  <rect x="408.6" y="824.3" width="12.2" height="3.6" fill="#3A80F0"/>
  <rect x="408.6" y="830.7" width="12.2" height="3.6" fill="#BDE3EA"/>
  <g stroke="#D2E8FC" stroke-width="1.7"><line x1="427.2" y1="824.7" x2="467.7" y2="824.7"/><line x1="427.2" y1="828.9" x2="433" y2="828.9"/><line x1="435.5" y1="828.9" x2="467.7" y2="828.9"/><line x1="427.2" y1="833" x2="455" y2="833"/><line x1="457.5" y1="833" x2="467.7" y2="833"/></g>
  <g stroke="#E6EFF2" stroke-width="0.7"><line x1="406.0" y1="850" x2="406.0" y2="879"/><line x1="409.3" y1="850" x2="409.3" y2="879"/><line x1="412.6" y1="850" x2="412.6" y2="879"/><line x1="415.9" y1="850" x2="415.9" y2="879"/><line x1="419.2" y1="850" x2="419.2" y2="879"/><line x1="422.5" y1="850" x2="422.5" y2="879"/><line x1="425.8" y1="850" x2="425.8" y2="879"/><line x1="429.1" y1="850" x2="429.1" y2="879"/><line x1="432.4" y1="850" x2="432.4" y2="879"/><line x1="435.7" y1="850" x2="435.7" y2="879"/><line x1="439.0" y1="850" x2="439.0" y2="879"/><line x1="442.3" y1="850" x2="442.3" y2="879"/><line x1="445.6" y1="850" x2="445.6" y2="879"/><line x1="448.9" y1="850" x2="448.9" y2="879"/><line x1="452.2" y1="850" x2="452.2" y2="879"/><line x1="455.5" y1="850" x2="455.5" y2="879"/><line x1="458.8" y1="850" x2="458.8" y2="879"/><line x1="462.1" y1="850" x2="462.1" y2="879"/><line x1="465.4" y1="850" x2="465.4" y2="879"/><line x1="468.7" y1="850" x2="468.7" y2="879"/><line x1="472.0" y1="850" x2="472.0" y2="879"/></g>
  <path d="M404.1,862.8 C408,852 412,843.6 416.3,843.6 C421,843.6 428,859.6 434.3,859.6 C439,859.6 443,850.6 447.2,850.6 C452,850.6 458,860 463,858 C469,855 472,836 476.1,833.3" fill="none" stroke="#B9C8CC" stroke-width="0.9"/>
  <g fill="#3A80F0"><circle cx="416.3" cy="843.6" r="1.4"/><circle cx="434.3" cy="859.6" r="1.4"/><circle cx="447.2" cy="850.6" r="1.4"/></g>
  <g stroke="#C9D9DD" stroke-width="2.4" stroke-linecap="round"><line x1="341.1" y1="892.4" x2="353.3" y2="892.4"/><line x1="357.3" y1="892.4" x2="373.0" y2="892.4"/><line x1="378.2" y1="892.4" x2="384.8" y2="892.4"/><line x1="341.1" y1="896.8" x2="361.2" y2="896.8"/><line x1="365.1" y1="896.8" x2="368.2" y2="896.8"/><line x1="372.6" y1="896.8" x2="384.8" y2="896.8"/><line x1="341.1" y1="901.4" x2="353.3" y2="901.4"/><line x1="357.3" y1="901.4" x2="373.0" y2="901.4"/><line x1="378.2" y1="901.4" x2="384.8" y2="901.4"/><line x1="341.1" y1="905.9" x2="361.2" y2="905.9"/><line x1="365.1" y1="905.9" x2="368.2" y2="905.9"/><line x1="372.6" y1="905.9" x2="384.8" y2="905.9"/></g>
  <g stroke="#C9D9DD" stroke-width="2.4" stroke-linecap="round"><line x1="423.7" y1="892.4" x2="435.9" y2="892.4"/><line x1="439.8" y1="892.4" x2="455.4" y2="892.4"/><line x1="460.6" y1="892.4" x2="467.1" y2="892.4"/><line x1="423.7" y1="896.8" x2="443.7" y2="896.8"/><line x1="447.6" y1="896.8" x2="450.6" y2="896.8"/><line x1="454.9" y1="896.8" x2="467.1" y2="896.8"/><line x1="423.7" y1="901.4" x2="435.9" y2="901.4"/><line x1="439.8" y1="901.4" x2="455.4" y2="901.4"/><line x1="460.6" y1="901.4" x2="467.1" y2="901.4"/><line x1="423.7" y1="905.9" x2="443.7" y2="905.9"/><line x1="447.6" y1="905.9" x2="450.6" y2="905.9"/><line x1="454.9" y1="905.9" x2="467.1" y2="905.9"/></g>
  <path d="M412,891.5 L410,902.5 L416.5,902.5 M407.5,898.5 L414,895.5" fill="none" stroke="#2C0E7C" stroke-width="2.4" stroke-linecap="round"/>
  <!-- floating card left -->
  <rect x="289" y="846" width="44" height="44" fill="#FFFFFF"/><path d="M336,862 A4,5 0 0 1 336,872 Z" fill="#2A8CF0"/>
  <g stroke="#D9E3E6" stroke-width="1.2"><line x1="306" y1="850.5" x2="332" y2="850.5"/><line x1="311" y1="853.5" x2="332" y2="853.5"/><line x1="297" y1="858.5" x2="332" y2="858.5"/><line x1="300" y1="861.5" x2="332" y2="861.5"/><line x1="304" y1="864.5" x2="332" y2="864.5"/></g>
  <circle cx="302.3" cy="880.7" r="4.6" fill="none" stroke="#F0407A" stroke-width="1.8"/>
  <path d="M302.3,876.1 A4.6,4.6 0 0 1 306.9,880.7" fill="none" stroke="#38D8F2" stroke-width="1.8"/>
  <path d="M306.9,880.7 A4.6,4.6 0 0 1 302.3,885.3" fill="none" stroke="#6A2A9A" stroke-width="1.8"/>
  <g stroke-width="1.8"><line x1="314.5" y1="886" x2="314.5" y2="878" stroke="#2C0E7C"/><line x1="318.5" y1="886" x2="318.5" y2="874.5" stroke="#F0407A"/><line x1="322.5" y1="886" x2="322.5" y2="880" stroke="#8A5ACC"/><line x1="326.5" y1="886" x2="326.5" y2="876" stroke="#38D8F2"/><line x1="330.5" y1="886" x2="330.5" y2="872.5" stroke="#F0407A"/></g>
  <!-- man -->
  <path d="M251,876 L280.5,876 L283,905 L282.5,941 L274.5,941 L271,900 L266,880 L265.5,941 L256.5,941 L251.5,905 Z" fill="#1B4BA8"/>
  <path d="M254.5,878 L262,878 L262,884 L258,886 Z M270,878 L277,878 L276.5,884 L272,886 Z" fill="#2C0E7C"/>
  <path d="M257,943 L269,943 L269.5,946.5 L257.5,946.5 Z M276,943 L287.5,944 L288,947.5 L276,947.5 Z" fill="#2C0E7C"/>
  <path d="M282,852 L300,865 L313,869 L313,864.5 L300,861 L289,850 Z" fill="#F5C3A8"/>
  <path d="M258,832 C264,829 274,829 281,832 C286,838 290,846 291.5,852.5 L285,856 L281,851 L280.5,877 L249.5,877 C250,860 252,842 258,832 Z" fill="#4A8CF4"/>
  <rect x="270.5" y="825" width="6" height="7.5" fill="#F5C9B8"/>
  <path d="M273,819 C278,816 287,817 287,823 C287,828 284,831 279.5,831 L273,829 Z" fill="#F5C9B8"/>
  <path d="M269.5,821 C268,813 274,809.5 281,810.5 C286,811 290,812.5 291.5,815.5 L288,818 L283.5,817 L281,820.5 L277.5,819.5 L275.5,826 Z" fill="url(#hair6)"/>
  <!-- tablet -->
  <polygon points="458.7,848 506.7,867.3 492.7,900 446,880" fill="#fff" stroke="#38CFF0" stroke-width="1.8" stroke-linejoin="round"/>
  <g stroke="#BFD2F8" stroke-width="0.8"><line x1="463" y1="855" x2="497" y2="869"/><line x1="461" y1="859" x2="495" y2="873"/><line x1="459" y1="865" x2="484" y2="875"/><line x1="458" y1="868.5" x2="482" y2="878.5"/></g>
  <g stroke="#8A3AB8" stroke-width="1.2"><line x1="486" y1="866" x2="499" y2="871.5"/><line x1="484" y1="870.5" x2="496" y2="875.5"/><line x1="483" y1="876" x2="494" y2="880.5"/><line x1="481" y1="880" x2="493" y2="885"/></g>
  <path d="M453.5,878 L458,876 L462,879 L466,876.5 L470,880 L474,878.5 L477,883 L481,880.5 L484,876 L487,893.5 Z" fill="#F84A82"/>
  <!-- woman -->
  <path d="M524,877 C534,875 546,873 556,871.5 C557,895 553,915 549.5,938 L543.5,938 L540,905 L537,892 L531,912 L531.5,938 L525,938 C523,915 522.5,895 524,877 Z" fill="#4A4690"/>
  <path d="M518,941 L530,941 L530.5,945 L518.5,945 Z M536,940.5 L548,940.5 L548,944.5 L536.5,944.5 Z" fill="#F83A8E"/>
  <path d="M515.5,862 C508,868 498,874 487,876.5 C484,877.5 484,880 487,880.5 C497,880 509,874 517,868.5 Z" fill="#F5C9B8"/>
  <path d="M510.1,842.8 C520,840 532,845 538.3,847.3 C546,855 552,863 555.9,870.2 C546,874 535,877 524.6,879 L522,864 L514,867.9 L506.3,862.6 C507,856 508,848 510.1,842.8 Z" fill="#F893E8"/>
  <path d="M502.1,832.5 C504,831 510,832 511,836 L511,840.5 C508,841 505,840 503,837 Z" fill="#F5D0C8"/>
  <path d="M494.1,827.9 C496,828.5 497.5,827 498.7,825.2 C501.5,822 504.5,819.9 507.9,819.9 C511,819.9 514,821.4 517,821.4 C520,821.4 523,822 525.4,824.5 C527,827 528,829.5 530.7,830.6 C534,831.5 537,832 538.3,833.6 C540.5,836 541,838 540.6,840.5 C540.5,844 539.5,846.5 538.3,848.1 C536,850.5 533.5,851.5 530.7,851.5 C528,851.5 526,850.5 524.6,849.6 C520,847.5 517,846.5 515.5,845 C513.5,843 513,841.5 512.4,840.5 C511,838 510,836.5 509.4,835.1 C507,832.5 505.5,831.5 503.3,831.3 C501,830.8 498.5,830.8 496.4,830.6 C495,830.2 494,829 494.1,827.9 Z" fill="url(#hair6)"/>
</svg>

<!-- ILL7 能耗历史 -->
<svg width="1869" height="1050" viewBox="0 0 1869 1050">
  <polygon points="1050.2,798.5 1057.5,944 1056,946.5 1035.2,947.4 1047,818" fill="#33A6A9"/>
  <polygon points="1050.2,798.5 1054,868 1047,856 1049,818" fill="#2B9497"/>
  <polygon points="859.9,818.8 1049.3,817.9 1035.2,947.4 853.8,947.4" fill="#F2F2F2"/>
  <polygon points="862.6,799.4 1050.2,798.5 1050.2,817.9 859.9,818.8" fill="#6FCCDA"/>
  <g stroke="#96B0C6" stroke-width="1.4">
    <line x1="870.5" y1="844.7" x2="1027.3" y2="844.7"/><line x1="882" y1="877.8" x2="1023.8" y2="877.8"/><line x1="910" y1="911.3" x2="1019.4" y2="911.3"/>
    <line x1="901.3" y1="821.4" x2="896.4" y2="885.7"/><line x1="935.7" y1="821.4" x2="924.2" y2="934.2"/><line x1="967.4" y1="821.4" x2="957.7" y2="934.2"/><line x1="1000" y1="821.4" x2="989.4" y2="934.2"/>
  </g>
  <polygon points="871.9,820.9 902.6,820.9 900.5,843.8 870.8,843.8" fill="#FF4F7A"/>
  <polygon points="994.5,918 1022,918 1020.5,938.6 993.3,938.6" fill="#FF4F7A"/>
  <g stroke="#fff" stroke-width="1.5"><line x1="877" y1="827.5" x2="896" y2="827.5"/><line x1="876.5" y1="832.5" x2="888" y2="832.5"/><line x1="876" y1="837.5" x2="895" y2="837.5"/><line x1="999" y1="923.5" x2="1016" y2="923.5"/><line x1="998.5" y1="927.8" x2="1010" y2="927.8"/><line x1="998" y1="932.2" x2="1016" y2="932.2"/></g>
  <g fill="#3A2A80"><circle cx="881.9" cy="810.8" r="3.2"/><circle cx="917.9" cy="810.8" r="3.2"/><circle cx="956.9" cy="810.8" r="3.2"/><circle cx="995.0" cy="810.8" r="3.2"/><circle cx="1026.3" cy="810.8" r="3.2"/></g>
  <g fill="none" stroke="#95AEC4" stroke-width="4.2" stroke-linecap="round"><path d="M881.5,810 C877.5,806 875.4,802 875.4,797 C875.4,791 880.0,787.3 886.0,787.3 C892.0,787.3 896.4,791 896.6,797.5"/><path d="M917.5,810 C913.5,806 911.4,802 911.4,797 C911.4,791 916.0,787.3 922.0,787.3 C928.0,787.3 932.4,791 932.6,797.5"/><path d="M956.5,810 C952.5,806 950.4,802 950.4,797 C950.4,791 955.0,787.3 961.0,787.3 C967.0,787.3 971.4,791 971.6,797.5"/><path d="M994.6,810 C990.6,806 988.5,802 988.5,797 C988.5,791 993.1,787.3 999.1,787.3 C1005.1,787.3 1009.5,791 1009.7,797.5"/><path d="M1025.9,810 C1021.9,806 1019.8,802 1019.8,797 C1019.8,791 1024.4,787.3 1030.4,787.3 C1036.4,787.3 1040.8,791 1041.0,797.5"/></g>
  <!-- clock -->
  <rect x="849.4" y="864.2" width="33.4" height="5.3" fill="#F8B500"/>
  <rect x="856.4" y="869.5" width="18.1" height="7" fill="#F36586"/>
  <circle cx="866.1" cy="919.2" r="39.6" fill="#fff" stroke="#F6907B" stroke-width="8.4"/>
  <path d="M895,896 A38,38 0 0 1 905,926" fill="none" stroke="#fff" stroke-width="1" opacity="0.9"/>
  <g stroke="#F6A090" stroke-width="1.1"><line x1="866.1" y1="891.7" x2="866.1" y2="887.2"/><line x1="879.9" y1="895.4" x2="882.1" y2="891.5"/><line x1="889.9" y1="905.5" x2="893.8" y2="903.2"/><line x1="893.6" y1="919.2" x2="898.1" y2="919.2"/><line x1="889.9" y1="933.0" x2="893.8" y2="935.2"/><line x1="879.9" y1="943.0" x2="882.1" y2="946.9"/><line x1="866.1" y1="946.7" x2="866.1" y2="951.2"/><line x1="852.4" y1="943.0" x2="850.1" y2="946.9"/><line x1="842.3" y1="933.0" x2="838.4" y2="935.2"/><line x1="838.6" y1="919.2" x2="834.1" y2="919.2"/><line x1="842.3" y1="905.5" x2="838.4" y2="903.2"/><line x1="852.4" y1="895.4" x2="850.1" y2="891.5"/></g>
  <g stroke="#E05560" stroke-width="2.2" stroke-linecap="round"><line x1="866.1" y1="919.2" x2="882.5" y2="901.5"/><line x1="866.1" y1="919.2" x2="882" y2="930"/><line x1="866.1" y1="919.2" x2="841.5" y2="929.5"/></g>
  <circle cx="866.1" cy="919.2" r="3.3" fill="#E05560"/>
</svg>

<!-- ILL8 能耗对比 -->
<svg width="1869" height="1050" viewBox="0 0 1869 1050">
  <defs>
    <linearGradient id="pie8" x1="0" y1="0" x2="1" y2="1"><stop offset="0" stop-color="#F8F090"/><stop offset="1" stop-color="#F8B8F0"/></linearGradient>
  </defs>
  <!-- tower -->
  <rect x="1543.5" y="818.3" width="52.4" height="117.2" rx="1" fill="#1866A8"/>
  <rect x="1548.8" y="825.4" width="41" height="10.1" fill="#12426F"/>
  <rect x="1548.8" y="839.9" width="41" height="9.9" fill="#12426F"/>
  <rect x="1548.8" y="855.1" width="41" height="3.8" fill="#3A9AD8"/>
  <circle cx="1569.8" cy="908.8" r="7.6" fill="#12335F"/>
  <path d="M1567.5,905.8 A3.6,3.6 0 1 0 1572.5,906" fill="none" stroke="#fff" stroke-width="1.3"/>
  <!-- monitor -->
  <rect x="1424.4" y="907" width="26.7" height="9.4" fill="#1866A8"/>
  <path d="M1400.8,930.1 C1406,920 1420,916.4 1438,916.4 C1456,916.4 1470,920 1475.1,930.1 Z" fill="#12335F"/>
  <rect x="1350.7" y="794" width="174.3" height="113.3" rx="1.5" fill="#12335F"/>
  <rect x="1357.4" y="800.2" width="161.5" height="94.9" rx="1.5" fill="#EEF4FC"/>
  <rect x="1366" y="807.9" width="74.2" height="24.7" fill="#FFFFFF"/>
  <rect x="1415.5" y="809.8" width="18.5" height="20" fill="#E9EDF2"/>
  <polygon points="1425,813 1428,819.8 1425,826.5 1422,819.8" fill="#F5C518"/>
  <g stroke="#DDDDDD" stroke-width="1.6"><line x1="1396" y1="814" x2="1407" y2="814"/><line x1="1390" y1="818" x2="1407" y2="818"/><line x1="1396" y1="822" x2="1407" y2="822"/><line x1="1390" y1="826.5" x2="1407" y2="826.5"/></g>
  <rect x="1381" y="839" width="59" height="40" fill="#FFFFFF"/>
  <rect x="1447.9" y="807.9" width="62.2" height="51.4" fill="#FFFFFF"/>
  <rect x="1451.5" y="811.5" width="11" height="3.5" fill="#20B4E0"/>
  <rect x="1451.5" y="816.5" width="11" height="3" fill="#A8BCD8"/>
  <g stroke="#E4E8EE" stroke-width="1"><line x1="1468" y1="812" x2="1503" y2="812"/><line x1="1468" y1="815.5" x2="1503" y2="815.5"/><line x1="1468" y1="819" x2="1503" y2="819"/></g>
  <g stroke="#E3E8EF" stroke-width="0.6"><line x1="1449.0" y1="836" x2="1449.0" y2="859"/><line x1="1451.6" y1="836" x2="1451.6" y2="859"/><line x1="1454.2" y1="836" x2="1454.2" y2="859"/><line x1="1456.8" y1="836" x2="1456.8" y2="859"/><line x1="1459.4" y1="836" x2="1459.4" y2="859"/><line x1="1462.0" y1="836" x2="1462.0" y2="859"/><line x1="1464.6" y1="836" x2="1464.6" y2="859"/><line x1="1467.2" y1="836" x2="1467.2" y2="859"/><line x1="1469.8" y1="836" x2="1469.8" y2="859"/><line x1="1472.4" y1="836" x2="1472.4" y2="859"/><line x1="1475.0" y1="836" x2="1475.0" y2="859"/><line x1="1477.6" y1="836" x2="1477.6" y2="859"/><line x1="1480.2" y1="836" x2="1480.2" y2="859"/><line x1="1482.8" y1="836" x2="1482.8" y2="859"/><line x1="1485.4" y1="836" x2="1485.4" y2="859"/><line x1="1488.0" y1="836" x2="1488.0" y2="859"/><line x1="1490.6" y1="836" x2="1490.6" y2="859"/><line x1="1493.2" y1="836" x2="1493.2" y2="859"/><line x1="1495.8" y1="836" x2="1495.8" y2="859"/><line x1="1498.4" y1="836" x2="1498.4" y2="859"/><line x1="1501.0" y1="836" x2="1501.0" y2="859"/><line x1="1503.6" y1="836" x2="1503.6" y2="859"/><line x1="1506.2" y1="836" x2="1506.2" y2="859"/></g>
  <path d="M1448.5,845.5 C1452,838 1456,828 1459,828 C1463,828 1468,841.5 1474.7,842 C1479,842 1481,834.5 1485,834.5 C1489,834.5 1494,843 1496.5,842 C1501,840 1505,822 1510,819.5" fill="none" stroke="#3AA0D8" stroke-width="0.9"/>
  <g fill="#20A8D8"><circle cx="1459" cy="828.3" r="1.5"/><circle cx="1474.7" cy="842" r="1.5"/><circle cx="1485.2" cy="834.5" r="1.5"/><circle cx="1496.5" cy="842" r="1.5"/></g>
  <g stroke="#FFFFFF" stroke-width="2.6" stroke-linecap="round"><line x1="1449.5" y1="866" x2="1509" y2="866"/><line x1="1449.5" y1="872" x2="1460" y2="872"/><line x1="1465" y1="872" x2="1509" y2="872"/><line x1="1449.5" y1="878" x2="1509" y2="878"/><line x1="1449.5" y1="884" x2="1477" y2="884"/><line x1="1481" y1="884" x2="1509" y2="884"/></g>
  <!-- woman -->
  <ellipse cx="1375" cy="976" rx="41.5" ry="3.5" fill="#EEF2F8"/>
  <path d="M1354.5,892.5 L1377,892.5 L1391,915 L1393.6,966 L1387.5,966 L1381,930 L1375,912 L1366,966 L1359,966 L1356,920 Z" fill="#0A92BA"/>
  <path d="M1354.5,892.5 L1377,892.5 L1373,912 L1366.5,966 L1359.5,966 L1356,920 Z" fill="#00A4D4"/>
  <path d="M1358.5,966.5 L1366,967 L1365,973 L1363.5,976 L1357,972.5 Z M1387.5,966.5 L1393.5,966.5 L1400,974 L1388,973 Z" fill="#1E1E1E"/>
  <!-- pie card -->
  <rect x="1397.4" y="848.8" width="40" height="29.5" rx="1.5" fill="url(#pie8)"/>
  <circle cx="1417.8" cy="864.6" r="11" fill="#F87A94"/>
  <path d="M1417.8,864.6 L1417.8,853.6 M1417.8,864.6 L1409,858 M1417.8,864.6 L1426.5,871.5" stroke="#FCE0E8" stroke-width="1" fill="none"/>
  <path d="M1374.1,846 C1376,845 1380,844.5 1381.8,845.1 C1386,852 1392,860 1396.4,865.7 L1397,870 L1383,872 L1382.7,891.4 L1354.4,891.4 C1357,880 1362,866 1366,856 Z" fill="#1766A6"/>
  <path d="M1381.8,845.1 C1386,852 1392,860 1396.4,865.7 L1397.5,871 L1390,871 C1385,866 1382,860 1379,852 Z" fill="#12609E"/>
  <path d="M1373.3,861.4 C1376,858 1380,860 1383,864 C1388,870 1396,873 1405.8,875.1 L1405,878.6 C1398,879 1391,878 1386.1,876.8 C1381,874 1376,869 1373.3,861.4 Z" fill="#2A8AC8"/>
  <rect x="1404.5" y="874.5" width="3.5" height="4.5" rx="1.5" fill="#F8D0C0"/>
  <path d="M1374.1,827.1 L1386,827.1 C1387,831 1387,836 1386.6,840.4 L1381,840.4 L1381,846.8 L1374.1,846.8 Z" fill="#F8DCCF"/>
  <path d="M1377.6,816.9 C1383,816.9 1389,819 1389.1,824.6 C1389,826 1388.5,826.3 1387.8,826.3 L1377.6,827.1 C1375.5,828 1373.5,829.5 1374.1,831.4 C1375,834 1378,836 1378,838.3 C1378,841 1375,842 1375,844.3 L1375,855.4 C1375,859.5 1373,863 1370.7,865.7 C1369,868 1367,870.4 1364.7,870.4 C1361,870.4 1357,869 1356.1,865.7 C1354.5,862 1354,859 1354.9,856.3 C1356,852 1360,849 1362.1,846 C1363,842 1362,835 1362.1,829.7 C1362.5,825 1364,822 1367.3,820.3 C1370,818 1374,816.9 1377.6,816.9 Z" fill="#222226"/>
</svg>

<!-- LOGO -->
<svg width="1869" height="1050" viewBox="0 0 1869 1050">
  <g fill="#0055A6">
    <path fill-rule="evenodd" d="M1534.6,31.8 A17.8,17.8 0 1 1 1534.55,31.8 Z M1534.6,39.1 A10.5,10.5 0 1 0 1534.65,39.1 Z"/>
    <polygon points="1555.8,31.8 1588.8,31.8 1588.8,63 1588,67.4 1578.9,67.4 1564.8,46.4 1564.8,67.4 1555.8,67.4"/>
    <path fill-rule="evenodd" d="M1648.9,31.8 A17.8,17.8 0 1 1 1648.85,31.8 Z M1648.9,39.1 A10.5,10.5 0 1 0 1648.95,39.1 Z"/>
    <path d="M1627,44.7 A17.8,17.8 0 1 0 1622.6,62.2 L1617.4,57.1 A10.5,10.5 0 1 1 1619.2,44.7 Z"/>
    <polygon points="1615.3,52 1627.7,52 1627.7,64"/>
    <polygon points="1664.8,67.4 1676.9,32.2 1690.8,32.2 1702.9,67.4 1694.2,67.4 1683.8,39.9 1673.5,67.4"/>
    <polygon points="1706.2,32.2 1715.1,32.2 1715.1,60.8 1734,60.8 1734,67.4 1706.2,67.4"/>
    <rect x="1766.4" y="32" width="6.3" height="3"/>
    <polygon points="1752,34.3 1787.1,34.3 1787.1,42.8 1782.8,42.8 1782.8,38.5 1756.3,38.5 1756.3,42.8 1752,42.8"/>
    <rect x="1752" y="45.2" width="35.9" height="4.4"/>
    <polygon points="1764.5,41.4 1769.8,41.4 1754.9,67.4 1748.1,67.4"/>
    <polygon points="1768.8,52.4 1775.1,52.4 1768.5,62.1 1777,62.1 1779.9,67.4 1763,67.4 1761.3,64.8"/>
    <polygon points="1777,58.2 1783.3,58.2 1787.6,67.4 1780.9,67.4"/>
    <rect x="1796.3" y="34.3" width="32.2" height="4.7"/>
    <rect x="1809.3" y="38" width="5.8" height="25"/>
    <rect x="1793.9" y="62.1" width="37.1" height="5.3"/>
  </g>
  <g stroke="#fff" stroke-width="1.25">
    <line x1="1569.4" y1="31" x2="1588.9" y2="67.5"/>
    <line x1="1575.1" y1="31" x2="1588.9" y2="56.8"/>
    <line x1="1581.1" y1="31" x2="1588.9" y2="45.6"/>
  </g>
  
</svg>
<div style="position:absolute;left:1590px;top:79px;font-size:20.5px;line-height:26px;color:#383232;font-weight:bold;white-space:nowrap;letter-spacing:0.2px;transform:scaleY(0.88);transform-origin:0 50%">让物料处理更简单</div>
<div class="lab" style="left:300px;width:214px;top:252px">生产任务</div>
<div class="lab" style="left:827px;width:240px;top:252px">能源使用计划</div>
<div class="lab" style="left:287px;width:240px;top:624px">能流图监控</div>
<div class="lab" style="left:828px;width:240px;top:624px">能耗使用报警</div>
<div class="lab" style="left:1356px;width:240px;top:624px">能耗使用统计</div>
<div class="lab" style="left:287px;width:240px;top:990px">能耗分析</div>
<div class="lab" style="left:828px;width:240px;top:990px">能耗历史</div>
<div class="lab" style="left:1356px;width:240px;top:990px">能耗对比</div>

<div class="dot" style="top:71px"></div>
<div class="dot" style="top:136px"></div>
<div class="dot" style="top:200px"></div>
<div class="bul" style="top:56px">电耗使用计划</div>
<div class="bul" style="top:120px">气耗使用计划</div>
<div class="bul" style="top:185px">水耗使用计划</div>

<div style="position:absolute;left:1785px;top:458px;width:44px;font-size:36px;line-height:44px;font-weight:bold;color:#0A58AA;text-align:center;-webkit-text-stroke:0.8px #0A58AA">计<br>划<br>优<br>化</div>

</body></html>
